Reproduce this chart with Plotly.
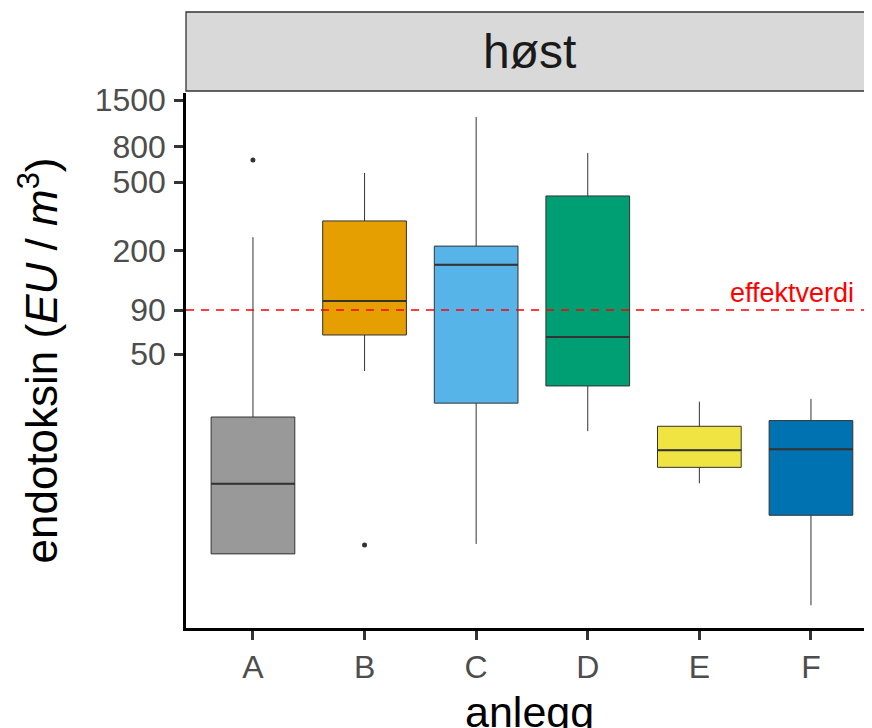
import math
import plotly.graph_objects as go

# ---- data ----
categories = ["A", "B", "C", "D", "E", "F"]
q1 = [3.44, 64.5, 25.9, 32.6, 10.96, 5.77]
median = [8.8, 101.7, 165, 62.8, 13.8, 13.96]
q3 = [21.5, 297, 212, 415, 19.0, 20.5]
lower_whisker = [3.44, 39.8, 3.93, 17.8, 8.85, 1.73]
upper_whisker = [239, 565, 1195, 738, 26.4, 27.4]
outlier_cat = ["A", "B"]
outlier_val = [671, 3.88]
colors = ["#999999", "#E69F00", "#56B4E9", "#009E73", "#F0E442", "#0072B2"]
tick_vals = [50, 90, 200, 500, 800, 1500]
threshold = 90
threshold_label = "effektverdi"
facet_label = "høst"

FONT = "Liberation Sans, Arial, sans-serif"
BOX_W = 0.75
OFF = 8  # default page body margin

fig = go.Figure()
for i, cat in enumerate(categories):
    fig.add_trace(go.Box(
        x=[i], q1=[q1[i]], median=[median[i]], q3=[q3[i]],
        lowerfence=[lower_whisker[i]], upperfence=[upper_whisker[i]],
        width=BOX_W, fillcolor=colors[i],
        line=dict(color="#333333", width=1), whiskerwidth=0,
        boxpoints=False, name=cat, showlegend=False, hoverinfo="skip",
    ))
    # thicker median line (ggplot style)
    fig.add_trace(go.Scatter(
        x=[i - BOX_W / 2, i + BOX_W / 2], y=[median[i], median[i]],
        mode="lines", line=dict(color="#333333", width=2),
        showlegend=False, hoverinfo="skip",
    ))

fig.add_trace(go.Scatter(
    x=[categories.index(c) for c in outlier_cat], y=outlier_val,
    mode="markers", marker=dict(color="#333333", size=5),
    showlegend=False, hoverinfo="skip",
))

# threshold line
fig.add_shape(type="line", xref="paper", x0=0, x1=1, yref="y",
              y0=threshold, y1=threshold,
              line=dict(color="#FF0000", width=1.5, dash="8px,7px"))

W, H = 872 - OFF, 728 - OFF
L, R, T, B = 186 - OFF, 0, 93 - OFF, 100
plot_h = H - T - B
plot_w = W - L - R

fig.add_annotation(text=threshold_label, xref="paper", yref="y",
                   x=(856 - 186) / plot_w, y=math.log10(threshold),
                   xanchor="right", yanchor="middle", yshift=17,
                   showarrow=False, font=dict(family=FONT, size=27, color="#FF0000"))

# facet strip (page pixels)
strip_top = 12
strip_bot = 91
fig.add_shape(type="rect", xref="paper", yref="paper", x0=0, x1=1,
              y0=1 + (93 - strip_bot) / plot_h, y1=1 + (93 - strip_top) / plot_h,
              fillcolor="#D9D9D9", line=dict(color="#333333", width=1.3), layer="below")
fig.add_annotation(text=facet_label, xref="paper", yref="paper", x=0.5,
                   y=1 + (93 - (strip_top + strip_bot) / 2) / plot_h,
                   xanchor="center", yanchor="middle", showarrow=False,
                   font=dict(family=FONT, size=48, color="#1A1A1A"))

# axis titles
fig.add_annotation(text="endotoksin (<i>EU</i> / <i>m</i><sup>3</sup>)",
                   xref="paper", yref="paper", x=(38 - 186) / plot_w, y=0.5,
                   xanchor="center", yanchor="middle", textangle=-90,
                   showarrow=False, font=dict(family=FONT, size=44, color="#000000"))
fig.add_annotation(text="anlegg", xref="paper", yref="paper", x=0.5,
                   y=-(712 - 628) / plot_h, xanchor="center", yanchor="middle",
                   showarrow=False, font=dict(family=FONT, size=43, color="#000000"))

y_top = math.log10(1500) + (100 - 93) / 171.96
y_bot = y_top - plot_h / 171.96
x_right = -0.6 + plot_w / 111.6

fig.update_layout(
    width=W, height=H, margin=dict(l=L, r=R, t=T, b=B, autoexpand=False),
    paper_bgcolor="white", plot_bgcolor="white", boxmode="overlay",
    showlegend=False,
    xaxis=dict(range=[-0.6, x_right], tickvals=list(range(len(categories))),
               ticktext=categories, showgrid=False, zeroline=False,
               showline=True, linecolor="#000000", linewidth=2.5,
               ticks="outside", ticklen=9, tickwidth=2.5, tickcolor="#333333",
               tickfont=dict(family=FONT, size=32, color="#4D4D4D"),
               ticklabelstandoff=0),
    yaxis=dict(type="log", range=[y_bot, y_top], tickvals=tick_vals,
               ticktext=[str(v) for v in tick_vals], showgrid=False,
               zeroline=False, showline=True, linecolor="#000000", linewidth=2.5,
               ticks="outside", ticklen=9, tickwidth=2.5, tickcolor="#333333",
               tickfont=dict(family=FONT, size=32, color="#4D4D4D"),
               ticklabelstandoff=2),
)

fig.write_html("out.html")
